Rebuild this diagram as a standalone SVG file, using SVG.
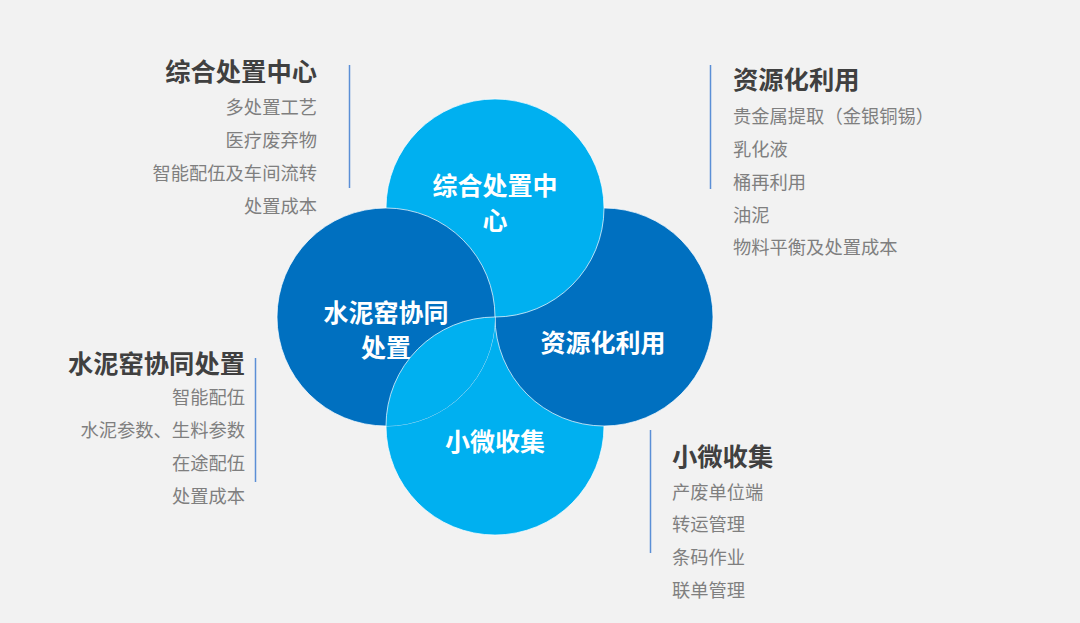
<svg xmlns="http://www.w3.org/2000/svg" width="1080" height="623" viewBox="0 0 1080 623">
<style>
.bg{fill:#F2F2F2}
.light{fill:#00B0F0;stroke:#ffffff;stroke-opacity:0.7;stroke-width:1}
.dark{fill:#0070C0;stroke:#ffffff;stroke-opacity:0.7;stroke-width:1}
.ct{font-family:"Noto Sans CJK SC","Noto Sans",sans-serif;font-weight:bold;font-size:25px;fill:#ffffff;text-anchor:middle;dominant-baseline:central}
.tt{font-family:"Noto Sans CJK SC","Noto Sans",sans-serif;font-weight:bold;font-size:25.3px;fill:#404040;dominant-baseline:central}
.it{font-family:"Noto Sans CJK SC","Noto Sans",sans-serif;font-size:18.3px;fill:#7F7F7F;dominant-baseline:central}
.r{text-anchor:end}
.bar{stroke:#5B8FD6;stroke-width:1.5;fill:none}
</style>
<defs>
<clipPath id="clipLeft"><circle cx="386" cy="317" r="109"/></clipPath>
</defs>
<rect class="bg" x="0" y="0" width="1080" height="623"/>

<g id="node-bottom">
<circle class="light" cx="495" cy="426" r="109"/>
<text class="ct" x="495" y="440">小微收集</text>
</g>
<g id="node-right">
<circle class="dark" cx="604" cy="317" r="109"/>
<text class="ct" x="603" y="341">资源化利用</text>
</g>
<g id="node-top">
<circle class="light" cx="495" cy="208" r="109"/>
<text class="ct" x="495" y="183.5">综合处置中<tspan x="495" dy="35">心</tspan></text>
</g>
<g id="node-left">
<circle class="dark" cx="386" cy="317" r="109"/>
<text class="ct" x="386" y="311">水泥窑协同<tspan x="386" dy="35">处置</tspan></text>
</g>
<g id="overlap-bottom-left" clip-path="url(#clipLeft)">
<circle class="light" cx="495" cy="426" r="109"/>
</g>

<g id="connectors">
<line class="bar" x1="349.5" y1="65" x2="349.5" y2="188"/>
<line class="bar" x1="710.5" y1="65" x2="710.5" y2="189"/>
<line class="bar" x1="255.5" y1="358" x2="255.5" y2="482"/>
<line class="bar" x1="650.5" y1="430" x2="650.5" y2="553"/>
</g>

<g id="label-top-left">
<text class="tt r" x="317" y="70">综合处置中心</text>
<text class="it r" x="317" y="106">多处置工艺</text>
<text class="it r" x="317" y="139">医疗废弃物</text>
<text class="it r" x="317" y="172">智能配伍及车间流转</text>
<text class="it r" x="317" y="205">处置成本</text>
</g>
<g id="label-top-right">
<text class="tt" x="733" y="78">资源化利用</text>
<text class="it" x="733" y="115">贵金属提取（金银铜锡）</text>
<text class="it" x="733" y="148">乳化液</text>
<text class="it" x="733" y="181">桶再利用</text>
<text class="it" x="733" y="214">油泥</text>
<text class="it" x="733" y="246">物料平衡及处置成本</text>
</g>
<g id="label-bottom-left">
<text class="tt r" x="245" y="362">水泥窑协同处置</text>
<text class="it r" x="245" y="396">智能配伍</text>
<text class="it r" x="245" y="429">水泥参数、生料参数</text>
<text class="it r" x="245" y="462">在途配伍</text>
<text class="it r" x="245" y="495">处置成本</text>
</g>
<g id="label-bottom-right">
<text class="tt" x="672" y="455">小微收集</text>
<text class="it" x="672" y="491">产废单位端</text>
<text class="it" x="672" y="523">转运管理</text>
<text class="it" x="672" y="556">条码作业</text>
<text class="it" x="672" y="589">联单管理</text>
</g>
</svg>
